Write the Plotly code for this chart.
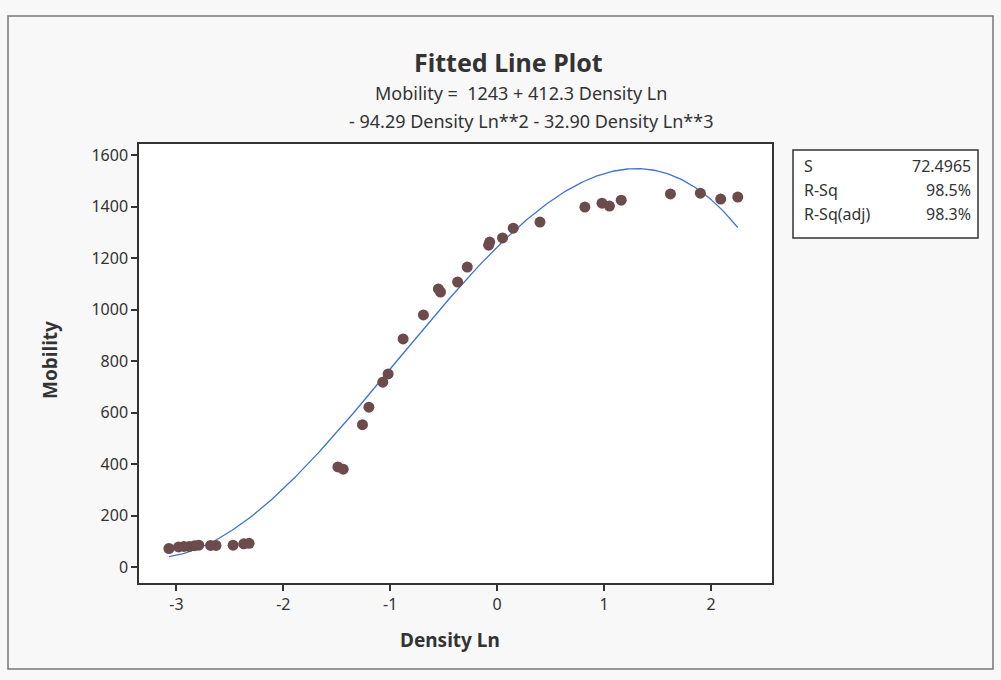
import numpy as np
import plotly.graph_objects as go

# ---- data ----
density_ln = [-3.07, -2.98, -2.93, -2.88, -2.83, -2.79, -2.68, -2.63, -2.47, -2.37, -2.32,
              -1.49, -1.44, -1.26, -1.20, -1.07, -1.02, -0.88, -0.69, -0.55, -0.53,
              -0.37, -0.28, -0.08, -0.07, 0.05, 0.15, 0.40, 0.82, 0.98, 1.05, 1.16,
              1.62, 1.90, 2.09, 2.25]
mobility = [72, 78, 80, 80, 83, 85, 84, 84, 85, 90, 92,
            389, 380, 553, 621, 718, 750, 886, 979, 1080, 1068,
            1107, 1165, 1250, 1262, 1278, 1316, 1340, 1398, 1413, 1402, 1425,
            1449, 1452, 1429, 1437]

# regression coefficients shown in the chart (constant, x, x^2, x^3)
coefs = [1243, 412.3, -94.29, -32.90]

stat_labels = ["S", "R-Sq", "R-Sq(adj)"]
stat_values = ["72.4965", "98.5%", "98.3%"]

x_ticks = [-3, -2, -1, 0, 1, 2]
x_ticktext = ["-3", "-2", "-1", "0", "1", "2"]
y_ticks = [0, 200, 400, 600, 800, 1000, 1200, 1400, 1600]

xf = np.linspace(min(density_ln), max(density_ln), 300)
yf = coefs[0] + coefs[1] * xf + coefs[2] * xf**2 + coefs[3] * xf**3

FONT = "Noto Sans"
TXT = "#333"
fig = go.Figure()
fig.add_trace(go.Scatter(x=xf, y=yf, mode="lines",
                         line=dict(color="#3f73d2", width=1.3), hoverinfo="skip"))
fig.add_trace(go.Scatter(x=density_ln, y=mobility, mode="markers",
                         marker=dict(color="#6b4b4b", size=11)))

fig.update_layout(
    width=1001, height=680,
    margin=dict(l=139, r=229, t=144, b=97),
    paper_bgcolor="#f8f8f8", plot_bgcolor="white",
    showlegend=False,
    font=dict(family=FONT, color=TXT),
    xaxis=dict(range=[-3.35, 2.57], tickvals=x_ticks, ticktext=x_ticktext,
               ticks="outside", ticklen=6,
               tickwidth=1.5, tickcolor=TXT, showline=True, linecolor=TXT,
               linewidth=1.5, mirror=True, showgrid=False, zeroline=False,
               tickfont=dict(size=16, family=FONT, color=TXT)),
    yaxis=dict(range=[-62, 1643], tickvals=y_ticks, ticks="outside", ticklen=6,
               tickwidth=1.5, tickcolor=TXT, showline=True, linecolor=TXT,
               linewidth=1.5, mirror=True, showgrid=False, zeroline=False,
               tickfont=dict(size=16, family=FONT, color=TXT)),
)

def px_x(p):
    return (p - 139) / 633

def px_y(p):
    return (680 - p - 97) / 439

# outer page frame
fig.add_shape(type="rect", xref="paper", yref="paper",
              x0=px_x(8), x1=px_x(993), y0=px_y(669), y1=px_y(16),
              line=dict(color="#777", width=1.5), fillcolor="rgba(0,0,0,0)", layer="below")

# titles
fig.add_annotation(text="<b>Fitted Line Plot</b>", xref="paper", yref="paper",
                   x=px_x(508), y=px_y(62), showarrow=False,
                   font=dict(size=25, family=FONT, color=TXT), xanchor="center", yanchor="middle")
fig.add_annotation(text="Mobility =  1243 + 412.3 Density Ln", xref="paper", yref="paper",
                   x=px_x(521), y=px_y(93), showarrow=False,
                   font=dict(size=18, family=FONT, color=TXT), xanchor="center", yanchor="middle")
fig.add_annotation(text="- 94.29 Density Ln**2 - 32.90 Density Ln**3", xref="paper", yref="paper",
                   x=px_x(531), y=px_y(121), showarrow=False,
                   font=dict(size=18, family=FONT, color=TXT), xanchor="center", yanchor="middle")

# axis titles
fig.add_annotation(text="<b>Mobility</b>", xref="paper", yref="paper",
                   x=px_x(50), y=px_y(360), showarrow=False, textangle=-90,
                   font=dict(size=19, family=FONT, color=TXT), xanchor="center", yanchor="middle")
fig.add_annotation(text="<b>Density Ln</b>", xref="paper", yref="paper",
                   x=px_x(450), y=px_y(640), showarrow=False,
                   font=dict(size=19, family=FONT, color=TXT), xanchor="center", yanchor="middle")

# stats box
fig.add_shape(type="rect", xref="paper", yref="paper",
              x0=px_x(793), x1=px_x(978), y0=px_y(238), y1=px_y(150),
              line=dict(color=TXT, width=1.5), fillcolor="white")
for i, (lab, val) in enumerate(zip(stat_labels, stat_values)):
    yy = px_y(166 + 24 * i)
    fig.add_annotation(text=lab, xref="paper", yref="paper", x=px_x(802), y=yy,
                       showarrow=False, xanchor="left", yanchor="middle",
                       font=dict(size=16, family=FONT, color=TXT))
    fig.add_annotation(text=val, xref="paper", yref="paper", x=px_x(973), y=yy,
                       showarrow=False, xanchor="right", yanchor="middle",
                       font=dict(size=16, family=FONT, color=TXT))

fig.write_html("out.html")
